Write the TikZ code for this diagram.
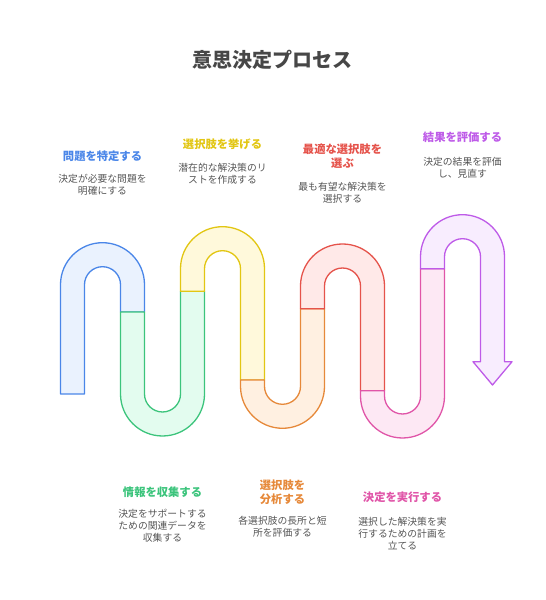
\documentclass[tikz,border=0pt]{standalone}
\usepackage{fontspec}
\setmainfont{Noto Sans CJK JP}
\definecolor{blueline}{HTML}{4A86E8}
\definecolor{bluefill}{HTML}{EAF2FE}
\definecolor{greenline}{HTML}{3CC47C}
\definecolor{greenfill}{HTML}{E3FCEF}
\definecolor{yellowline}{HTML}{E2C613}
\definecolor{yellowfill}{HTML}{FFF9DB}
\definecolor{orangeline}{HTML}{E6893A}
\definecolor{orangefill}{HTML}{FFF0E1}
\definecolor{redline}{HTML}{E5534B}
\definecolor{redfill}{HTML}{FFE9E8}
\definecolor{pinkline}{HTML}{E055A8}
\definecolor{pinkfill}{HTML}{FDE8F4}
\definecolor{purpleline}{HTML}{BE5BE8}
\definecolor{purplefill}{HTML}{F8EDFE}
\definecolor{bodytext}{HTML}{555555}
\tikzset{
  band/.style={line width=1.3pt, line join=round},
  head/.style={inner sep=0pt, align=center, font=\fontsize{11.3}{14.3}\selectfont\bfseries},
  body/.style={inner sep=0pt, align=center, text=bodytext, font=\fontsize{9.8}{12.2}\selectfont}
}
\begin{document}
\begin{tikzpicture}[x=1pt, y=1pt]
\useasboundingbox (0,0) rectangle (546,600);

% Title
\node[inner sep=0pt, text=black!72, font=\fontsize{20}{24}\selectfont\bfseries] (title) at (272.5,540) {意思決定プロセス};

% Draw the winding band, one piece per step
\draw[band, draw=blueline, fill=bluefill] (60.5,206) -- (60.5,315.3) arc[start angle=180, end angle=0, radius=42] -- (144.5,288) -- (120.5,288) -- (120.5,315.3) arc[start angle=0, end angle=180, radius=18] -- (84.5,206) -- cycle;
\draw[band, draw=greenline, fill=greenfill] (120.5,288) -- (120.5,206) arc[start angle=180, end angle=360, radius=42] -- (204.5,308.7) -- (180.5,308.7) -- (180.5,206) arc[start angle=0, end angle=-180, radius=18] -- (144.5,288) -- cycle;
\draw[band, draw=yellowline, fill=yellowfill] (180.5,308.7) -- (180.5,331.3) arc[start angle=180, end angle=0, radius=42] -- (264.5,220) -- (240.5,220) -- (240.5,331.3) arc[start angle=0, end angle=180, radius=18] -- (204.5,308.7) -- cycle;
\draw[band, draw=orangeline, fill=orangefill] (240.5,220) -- (240.5,213.7) arc[start angle=180, end angle=360, radius=42] -- (324.5,291.3) -- (300.5,291.3) -- (300.5,213.7) arc[start angle=0, end angle=-180, radius=18] -- (264.5,220) -- cycle;
\draw[band, draw=redline, fill=redfill] (300.5,291.3) -- (300.5,314) arc[start angle=180, end angle=0, radius=42] -- (384.5,209.3) -- (360.5,209.3) -- (360.5,314) arc[start angle=0, end angle=180, radius=18] -- (324.5,291.3) -- cycle;
\draw[band, draw=pinkline, fill=pinkfill] (360.5,209.3) -- (360.5,204) arc[start angle=180, end angle=360, radius=42] -- (444.5,331.3) -- (420.5,331.3) -- (420.5,204) arc[start angle=0, end angle=-180, radius=18] -- (384.5,209.3) -- cycle;
\draw[band, draw=purpleline, fill=purplefill] (420.5,331.3) -- (420.5,343.3) arc[start angle=180, end angle=0, radius=42] -- (504.5,238.3) -- (512,238.3) -- (492.5,215) -- (473,238.3) -- (480.5,238.3) -- (480.5,343.3) arc[start angle=0, end angle=180, radius=18] -- (444.5,331.3) -- cycle;

% Upper labels
\node[head, text=blueline] (identify) at (102.5,444) {問題を特定する};
\node[body] (identifytxt) at (102.5,415) {決定が必要な問題を\\明確にする};
\node[head, text=yellowline] (list) at (222.5,456) {選択肢を挙げる};
\node[body] (listtxt) at (222.5,426) {潜在的な解決策のリ\\ストを作成する};
\node[head, text=redline] (choose) at (342.5,444.1) {最適な選択肢を\\選ぶ};
\node[body] (choosetxt) at (342.5,407.5) {最も有望な解決策を\\選択する};
\node[head, text=purpleline] (review) at (462.5,462.7) {結果を評価する};
\node[body] (reviewtxt) at (462.5,432) {決定の結果を評価\\し、見直す};

% Lower labels
\node[head, text=greenline] (gather) at (162.5,107.3) {情報を収集する};
\node[body] (gathertxt) at (162.5,74.2) {決定をサポートする\\ための関連データを\\収集する};
\node[head, text=orangeline] (analyse) at (282.5,108) {選択肢を\\分析する};
\node[body] (analysetxt) at (282.5,73) {各選択肢の長所と短\\所を評価する};
\node[head, text=pinkline] (act) at (402.5,102.7) {決定を実行する};
\node[body] (acttxt) at (402.5,66.3) {選択した解決策を実\\行するための計画を\\立てる};
\end{tikzpicture}
\end{document}
